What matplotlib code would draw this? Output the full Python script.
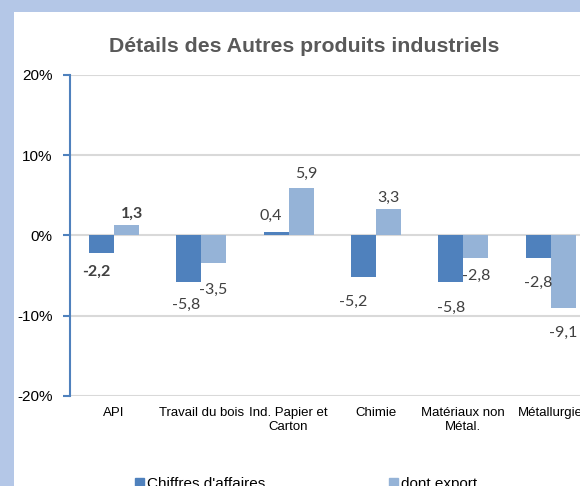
import numpy as np
import matplotlib
matplotlib.use("Agg")
import matplotlib.pyplot as plt
from matplotlib.patches import Rectangle, Patch

# Données (en %)
categories = ["API", "Travail du bois", "Ind. Papier et\nCarton", "Chimie",
              "Matériaux non\nMétal.", "Métallurgie"]
chiffres_affaires = [-2.2, -5.8, 0.4, -5.2, -5.8, -2.8]
dont_export = [1.3, -3.5, 5.9, 3.3, -2.8, -9.1]
y_ticks = [-20, -10, 0, 10, 20]
series_names = ["Chiffres d'affaires", "dont export"]

# décalage des étiquettes (pixels) comme dans le graphique Excel
off_ca = [(-4.5, -19), (-2, -23), (-5, 16), (-10, -25), (0, -26), (0, -25)]
off_ex = [(5.5, 11), (0, -26), (5, 14), (0, 11), (0, -18), (0, -25)]
bold_idx = [0]

c_ca = "#4F81BD"
c_ex = "#95B3D7"

W, H = 580, 486
fig = plt.figure(figsize=(W / 100, H / 100), dpi=100)
fig.patch.set_facecolor("#B4C7E7")
fig.add_artist(Rectangle((14 / W, 0), 1, 1 - 12 / H, transform=fig.transFigure,
                         facecolor="white", edgecolor="none", zorder=-1))

ax_left, ax_top, ax_bot = 70, 75, 395.7
step = 87.4
ax = fig.add_axes([ax_left / W, 1 - ax_bot / H, 6 * step / W, (ax_bot - ax_top) / H])
ax.set_facecolor("none")

x = np.arange(len(categories))
w = 25 / step
ax.bar(x - w / 2, chiffres_affaires, w, color=c_ca, zorder=3)
ax.bar(x + w / 2, dont_export, w, color=c_ex, zorder=3)

ax.set_xlim(-0.5, 5.5)
ax.set_ylim(-20, 20)
ax.set_yticks(y_ticks)
ax.set_yticklabels([f"{v}%" for v in y_ticks], fontsize=11, family="Liberation Sans")
ax.set_xticks(x)
ax.set_xticklabels(categories, fontsize=9.5, family="Liberation Sans", linespacing=1.2)
ax.yaxis.grid(True, color="#D9D9D9", lw=1.5)
ax.set_axisbelow(True)
for s in ["top", "right", "bottom"]:
    ax.spines[s].set_visible(False)
ax.spines["left"].set_color(c_ca)
ax.spines["left"].set_linewidth(1.5)
ax.tick_params(axis="y", color=c_ca, length=5, width=1.5, pad=7.5)
ax.tick_params(axis="x", length=0, pad=8)

for vals, offs, xs in [(chiffres_affaires, off_ca, x - w / 2), (dont_export, off_ex, x + w / 2)]:
    for i, v in enumerate(vals):
        ax.annotate(f"{v:.1f}".replace(".", ","), (xs[i], v), xytext=offs[i],
                    textcoords="offset pixels", ha="center", va="center",
                    fontsize=11.5, family="Lato", color="#404040",
                    fontweight="bold" if i in bold_idx else "normal",
                    annotation_clip=False)

fig.text(304.5 / W, 1 - 46 / H, "Détails des Autres produits industriels",
         ha="center", va="center", fontsize=15.3, fontweight="bold",
         color="#595959", family="Liberation Sans")

handles = [Patch(color=c_ca), Patch(color=c_ex)]
fig.legend(handles, series_names, loc="center left", bbox_to_anchor=(135 / W, 1 - 484 / H),
           ncol=2, frameon=False, prop={"family": "Liberation Sans", "size": 11},
           handlelength=0.6, handleheight=0.6, handletextpad=0.2,
           columnspacing=8.1, borderpad=0, borderaxespad=0)

fig.savefig("out.png", dpi=100)
